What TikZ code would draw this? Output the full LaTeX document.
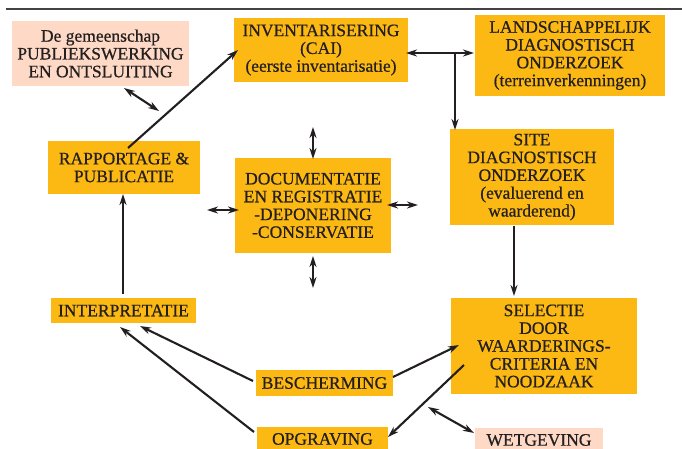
\documentclass[tikz,border=0pt]{standalone}
\usepackage{fontspec}
\setmainfont{Liberation Serif}
\newfontfamily\boxfont[RawFeature={embolden=0.6}]{Liberation Serif}
\usetikzlibrary{arrows.meta}
\definecolor{boxorange}{HTML}{FDB913}
\definecolor{boxpink}{HTML}{FDD9C6}
\definecolor{ink}{HTML}{231F20}
\begin{document}
\begin{tikzpicture}[x=1pt,y=-1pt,
  box/.style={fill=boxorange, inner sep=0pt, align=center, text=ink,
    font=\boxfont\fontsize{17.5}{17.8}\selectfont},
  pinkbox/.style={box, fill=boxpink},
  tip/.tip={Stealth[length=11pt,width=7pt]},
  conn/.style={draw=ink, line width=2.1pt, -tip},
  dconn/.style={draw=ink, line width=2.1pt, tip-tip}]
\path[use as bounding box] (0,0) rectangle (682,448);
\clip (0,0) rectangle (682,448);
\fill[white] (0,0) rectangle (682,448);
% top rule
\coordinate (ruleL) at (6,9);
\coordinate (ruleR) at (682,9);
\draw[ink!85, line width=1.2pt] (ruleL) -- (ruleR);

% nodes
\node[pinkbox, minimum width=177pt, minimum height=65pt] (pub) at (100.5,53.5)
  {De gemeenschap\\PUBLIEKSWERKING\\EN ONTSLUITING};
\node[box, minimum width=174pt, minimum height=64pt] (inv) at (321,50)
  {INVENTARISERING\\(CAI)\\(eerste inventarisatie)};
\node[box, minimum width=190pt, minimum height=81pt] (land) at (570,55.5)
  {LANDSCHAPPELIJK\\DIAGNOSTISCH\\ONDERZOEK\\(terreinverkenningen)};
\node[box, minimum width=164pt, minimum height=96pt] (site) at (532,177)
  {SITE\\DIAGNOSTISCH\\ONDERZOEK\\(evaluerend en\\waarderend)};
\node[box, minimum width=152pt, minimum height=53pt] (rap) at (124,167.5)
  {RAPPORTAGE \&\\PUBLICATIE};
\node[box, minimum width=156pt, minimum height=95pt] (doc) at (313,205.5)
  {DOCUMENTATIE\\EN REGISTRATIE\\-DEPONERING\\-CONSERVATIE};
\node[box, minimum width=145pt, minimum height=25pt] (interp) at (123.5,310.5)
  {INTERPRETATIE};
\node[box, minimum width=137pt, minimum height=26pt] (besch) at (324.5,383)
  {BESCHERMING};
\node[box, minimum width=131pt, minimum height=24pt] (opgr) at (322.5,439)
  {OPGRAVING};
\node[box, minimum width=186pt, minimum height=96pt] (sel) at (544,346)
  {SELECTIE\\DOOR\\WAARDERINGS-\\CRITERIA EN\\NOODZAAK};
\node[pinkbox, minimum width=128pt, minimum height=24pt] (wet) at (539,440)
  {WETGEVING};

% connector end points
\coordinate (invE) at (406,53);
\coordinate (landW) at (474,53);
\coordinate (junc) at (455,53);
\coordinate (siteN) at (455,130);
\coordinate (rapS) at (128,148);
\coordinate (invW) at (238,50);
\coordinate (pubA) at (124,88);
\coordinate (pubB) at (159,111);
\coordinate (interpN) at (123,294);
\coordinate (rapB) at (123,194);
\coordinate (docT1) at (313,127);
\coordinate (docT2) at (313,159);
\coordinate (docB1) at (313,256);
\coordinate (docB2) at (313,288);
\coordinate (docL1) at (207,210);
\coordinate (docL2) at (239,210);
\coordinate (docR1) at (387,205);
\coordinate (docR2) at (418,205);
\coordinate (siteS) at (514,226);
\coordinate (selN) at (514,296);
\coordinate (beschW) at (253,381);
\coordinate (interpA) at (140,326);
\coordinate (opgrW) at (254,432);
\coordinate (interpB) at (120,327);
\coordinate (beschE) at (393,377);
\coordinate (selW) at (459,345);
\coordinate (selSW) at (464,365);
\coordinate (opgrE) at (388,437);
\coordinate (wetA) at (428,407);
\coordinate (wetB) at (474,433);

% connectors
\draw[dconn] (invE) -- (landW);
\draw[conn] (junc) -- (siteN);
\draw[conn] (rapS) -- (invW);
\draw[dconn] (pubA) -- (pubB);
\draw[conn] (interpN) -- (rapB);
\draw[dconn] (docT1) -- (docT2);
\draw[dconn] (docB1) -- (docB2);
\draw[dconn] (docL1) -- (docL2);
\draw[dconn] (docR1) -- (docR2);
\draw[conn] (siteS) -- (selN);
\draw[conn] (beschW) -- (interpA);
\draw[conn] (opgrW) -- (interpB);
\draw[conn] (beschE) -- (selW);
\draw[conn] (selSW) -- (opgrE);
\draw[dconn] (wetA) -- (wetB);
\end{tikzpicture}
\end{document}
